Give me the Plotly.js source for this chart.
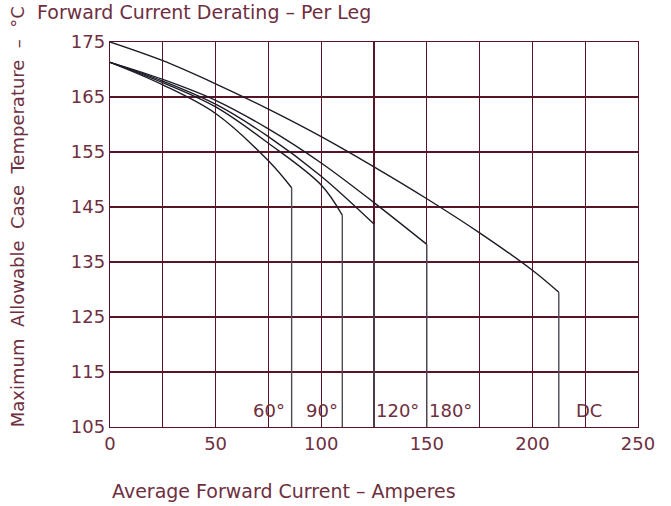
<!DOCTYPE html>
<html>
<head>
<meta charset="utf-8">
<script src="https://cdn.plot.ly/plotly-3.0.1.min.js"></script>
<style>html,body{margin:0;padding:0;background:#fff;}#chart{width:671px;height:506px;}</style>
</head>
<body>
<div id="chart"></div>
<script>
// Data (Average Forward Current, A -> Max Case Temp, °C)
const dcX   = [0, 25, 50, 75, 100, 125, 150, 175, 200, 212.5];
const dcY   = [175, 171.6, 167.4, 162.8, 157.8, 152.3, 146.5, 140.3, 133.5, 129.5];
const d180X = [0, 25, 50, 75, 100, 125, 150];
const d180Y = [171.3, 168.2, 164.4, 159.2, 153.0, 145.8, 138.2];
const d120X = [0, 25, 50, 75, 100, 125];
const d120Y = [171.3, 167.9, 163.7, 157.8, 150.6, 141.9];
const d90X  = [0, 25, 50, 75, 100, 110];
const d90Y  = [171.3, 167.6, 163.2, 156.6, 149.0, 143.5];
const d60X  = [0, 25, 50, 75, 86];
const d60Y  = [171.3, 167.2, 162.0, 153.4, 148.5];

const labelText = ['60°', '90°', '120°', '180°', 'DC'];
const labelX    = [75.3, 100.5, 136, 161, 227];
const labelY    = 108;

const xTicks = [0, 50, 100, 150, 200, 250];
const xGrid  = [0, 25, 50, 75, 100, 125, 150, 175, 200, 225, 250];
const yTicks = [105, 115, 125, 135, 145, 155, 165, 175];

const xMin = 0, xMax = 250, yMin = 105, yMax = 175;

const FONT = 'DejaVu Sans, sans-serif';
const TXT = '#6e2f3f';
const GRID = '#5a1428';
const CURVE = '#1c1c28';
const DROP = '#4a4a55';

const series = [[dcX, dcY], [d180X, d180Y], [d120X, d120Y], [d90X, d90Y], [d60X, d60Y]];
const traces = [];
series.forEach(([xs, ys]) => {
  traces.push({x: xs, y: ys, mode: 'lines', type: 'scatter',
    line: {color: CURVE, width: 1.4, shape: 'spline', smoothing: 1}, hoverinfo: 'skip'});
  const xe = xs[xs.length - 1], ye = ys[ys.length - 1];
  traces.push({x: [xe, xe], y: [ye, yMin], mode: 'lines', type: 'scatter',
    line: {color: DROP, width: 1.4}, hoverinfo: 'skip'});
});

const annotations = labelText.map((t, i) => ({
  x: labelX[i], y: labelY, xref: 'x', yref: 'y', text: t, showarrow: false,
  xanchor: 'center', yanchor: 'middle', font: {family: FONT, size: 18, color: TXT}
}));
annotations.push({
  text: 'Forward Current Derating – Per Leg', xref: 'paper', yref: 'paper',
  x: -0.142, y: 1.077, xanchor: 'left', yanchor: 'middle', showarrow: false,
  font: {family: FONT, size: 19, color: TXT}
});
annotations.push({
  text: 'Average Forward Current – Amperes', xref: 'paper', yref: 'paper',
  x: 0, y: -0.167, xanchor: 'left', yanchor: 'middle', showarrow: false,
  font: {family: FONT, size: 19, color: TXT}
});
annotations.push({
  text: 'Maximum  Allowable  Case  Temperature  –  °C', xref: 'paper', yref: 'paper',
  x: -0.176, y: 0.545, xanchor: 'center', yanchor: 'middle', showarrow: false, textangle: -90,
  font: {family: FONT, size: 18, color: TXT}
});

const layout = {
  width: 671, height: 506,
  margin: {l: 110, r: 33, t: 42, b: 79},
  paper_bgcolor: '#fff', plot_bgcolor: '#fff',
  showlegend: false,
  xaxis: {range: [xMin, xMax], tickvals: xGrid,
    ticktext: xGrid.map(v => xTicks.includes(v) ? String(v) : ''),
    showgrid: true, gridcolor: GRID, gridwidth: 1.3, zeroline: false,
    showline: true, linecolor: GRID, linewidth: 1.3, mirror: true, ticks: '',
    tickfont: {family: FONT, size: 18, color: TXT}, fixedrange: true},
  yaxis: {range: [yMin, yMax], tickvals: yTicks, ticktext: yTicks.map(String),
    showgrid: true, gridcolor: GRID, gridwidth: 1.3, zeroline: false,
    showline: true, linecolor: GRID, linewidth: 1.3, mirror: true, ticks: '',
    tickfont: {family: FONT, size: 18, color: TXT}, fixedrange: true},
  annotations: annotations
};

Plotly.newPlot('chart', traces, layout, {displayModeBar: false, staticPlot: true});
</script>
</body>
</html>
